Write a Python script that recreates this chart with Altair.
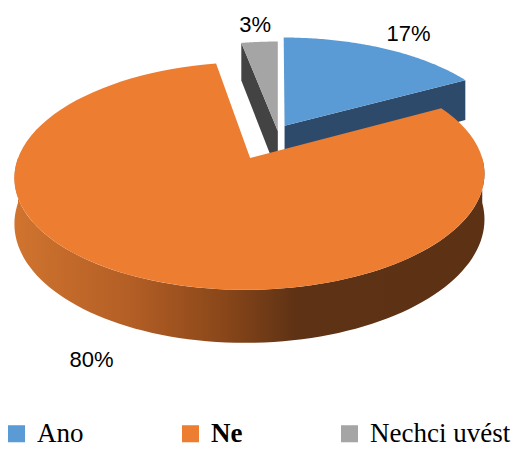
import altair as alt
import pandas as pd

# ---- data ----
categories = ["Ano", "Ne", "Nechci uvést"]
percent = [17, 80, 3]

# ---- styles ----
top_colors = ["#5B9BD5", "#ED7D31", "#A5A5A5"]
face_colors = ["#2E4A6A", "#8A4A1C", "#434343"]
explode = {"Ano": 0.06, "Ne": 0.28, "Nechci uvést": 0.0}

df = pd.DataFrame({"idx": list(range(len(categories))), "cat": categories, "val": percent})

# ---- layout (pseudo-3D projection) ----
W, H = 510, 442
M = 8
CX, CY = 277.8 - M, 131 - M
R, RV = 223.3, 102.9
DEPTH = 43
P = 0.15
HZ = DEPTH / RV
N = 90
LRX, LRY = 1.28, 1.22

expl_expr = " : ".join(f"datum.cat == '{c}' ? {v}" for c, v in explode.items()) + " : 0"


def sx(X, Y):
    return f"({X})/(1+{P}*({Y}))"


def sy(Y, z):
    return f"(({Y}) - {HZ}*({z}))/(1+{P}*({Y}))"


xs = alt.Scale(domain=[-1, 1], range=[CX - R, CX + R], nice=False, zero=False)
ys = alt.Scale(domain=[-1, 1], range=[CY + RV, CY - RV], nice=False, zero=False)
X_ENC = alt.X("xu:Q", scale=xs, axis=None)
Y_ENC = alt.Y("yu:Q", scale=ys, axis=None)


def base():
    return (
        alt.Chart(df)
        .transform_window(cum="sum(val)", sort=[alt.SortField("idx")], frame=[None, 0])
        .transform_joinaggregate(tot="sum(val)")
        .transform_calculate(a0="2*PI*(datum.cum-datum.val)/datum.tot",
                             a1="2*PI*datum.cum/datum.tot")
        .transform_calculate(am="(datum.a0+datum.a1)/2", e=expl_expr)
        .transform_calculate(ox="datum.e*sin(datum.am)", oy="datum.e*cos(datum.am)")
    )


# radial cut faces
faces = (
    base()
    .transform_calculate(fs="sequence(0,2)")
    .transform_flatten(["fs"], as_=["f"])
    .transform_calculate(fa="datum.f == 0 ? datum.a0 : datum.a1")
    .transform_filter("datum.f == 0 ? sin(datum.a0) < -0.01 : sin(datum.a1) > 0.01")
    .transform_calculate(ks="sequence(0,4)")
    .transform_flatten(["ks"], as_=["k"])
    .transform_calculate(rr="(datum.k == 1 || datum.k == 2) ? 1 : 0",
                         z="datum.k >= 2 ? 1 : 0")
    .transform_calculate(X="datum.ox + datum.rr*sin(datum.fa)",
                         Y="datum.oy + datum.rr*cos(datum.fa)")
    .transform_calculate(xu=sx("datum.X", "datum.Y"), yu=sy("datum.Y", "datum.z"))
    .mark_line(strokeOpacity=0)
    .encode(
        x=X_ENC, y=Y_ENC, order=alt.Order("k:Q"),
        detail=["cat:N", "f:N"],
        fill=alt.Fill("cat:N", scale=alt.Scale(domain=categories, range=face_colors), legend=None),
    )
)

wall_grad = alt.LinearGradient(
    gradient="linear",
    stops=[
        alt.GradientStop(color="#D0742F", offset=0),
        alt.GradientStop(color="#B35E25", offset=0.25),
        alt.GradientStop(color="#884619", offset=0.45),
        alt.GradientStop(color="#5E3215", offset=0.6),
        alt.GradientStop(color="#5C3114", offset=1),
    ],
    x1=0, x2=1, y1=0, y2=0,
)

walls = (
    base()
    .transform_calculate(b0="max(datum.a0, PI/2)", b1="min(datum.a1, 3*PI/2)")
    .transform_filter("datum.b1 > datum.b0")
    .transform_calculate(ks=f"sequence(0,{2 * N + 2})")
    .transform_flatten(["ks"], as_=["k"])
    .transform_calculate(
        t=f"datum.k <= {N} ? datum.b0+(datum.b1-datum.b0)*datum.k/{N} : datum.b1-(datum.b1-datum.b0)*(datum.k-{N}-1)/{N}",
        z=f"datum.k <= {N} ? 0 : 1",
    )
    .transform_calculate(X="datum.ox + sin(datum.t)", Y="datum.oy + cos(datum.t)")
    .transform_calculate(xu=sx("datum.X", "datum.Y"), yu=sy("datum.Y", "datum.z"))
    .mark_line(fill=wall_grad, strokeOpacity=0)
    .encode(x=X_ENC, y=Y_ENC, order=alt.Order("k:Q"), detail="cat:N")
)

tops = (
    base()
    .transform_calculate(ks=f"sequence(0,{N + 2})")
    .transform_flatten(["ks"], as_=["k"])
    .transform_calculate(t=f"datum.a0+(datum.a1-datum.a0)*(datum.k-1)/{N}")
    .transform_calculate(X="datum.ox + (datum.k == 0 ? 0 : sin(datum.t))",
                         Y="datum.oy + (datum.k == 0 ? 0 : cos(datum.t))")
    .transform_calculate(xu=sx("datum.X", "datum.Y"), yu=sy("datum.Y", "0"))
    .mark_line(strokeOpacity=0)
    .encode(
        x=X_ENC, y=Y_ENC, order=alt.Order("k:Q"),
        fill=alt.Fill(
            "cat:N",
            scale=alt.Scale(domain=categories, range=top_colors),
            legend=alt.Legend(
                title=None, orient="none", legendX=-5, legendY=412,
                direction="horizontal", symbolType="square", symbolSize=290,
                symbolStrokeWidth=0, labelFont="Liberation Serif", labelFontSize=27,
                labelColor="black", labelOffset=7, columnPadding=93, padding=0,
                labelLimit=300,
                labelFontWeight={"expr": "datum.label == 'Ne' ? 'bold' : 'normal'"},
            ),
        ),
    )
)

labels = (
    base()
    .transform_calculate(X=f"datum.ox + {LRX}*sin(datum.am)",
                         Y=f"datum.oy + {LRY}*cos(datum.am)",
                         z="cos(datum.am) < 0 ? 1 : 0",
                         lab="datum.val + '%'")
    .transform_calculate(xu=sx("datum.X", "datum.Y"), yu=sy("datum.Y", "datum.z"))
    .mark_text(font="Liberation Sans", fontSize=22, color="black", align="center", baseline="middle")
    .encode(x=X_ENC, y=Y_ENC, text="lab:N")
)

chart = (
    alt.layer(faces, walls, tops, labels)
    .resolve_scale(fill="independent")
    .properties(width=W, height=H, autosize=alt.AutoSizeParams(type="none"), padding=0,
                background="white")
    .configure_view(stroke="transparent")
)

chart.save("out.html", embed_options={"renderer": "svg", "actions": False})
